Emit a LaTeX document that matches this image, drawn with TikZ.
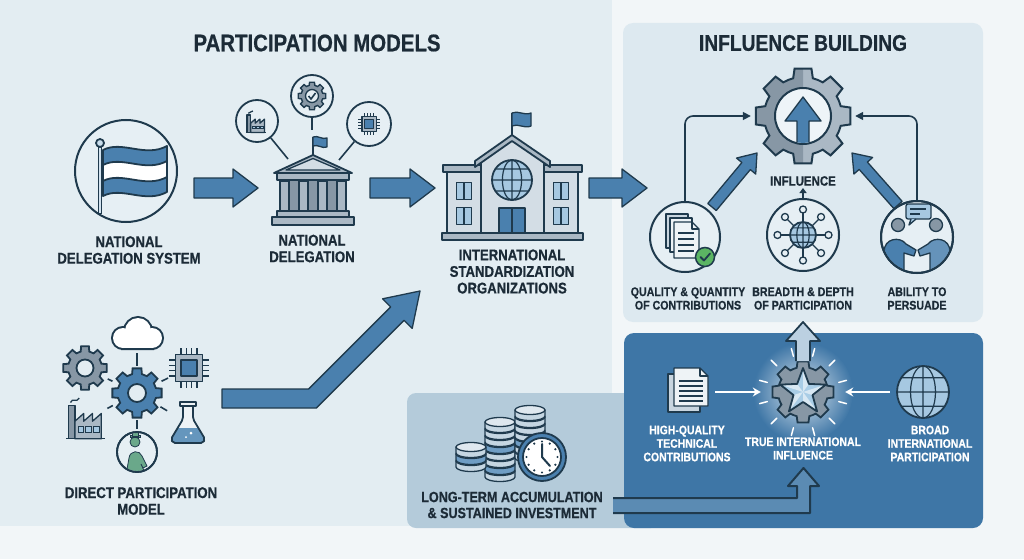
\documentclass[tikz,border=0pt]{standalone}
\usepackage{fontspec}
\setmainfont{Liberation Sans}[FakeStretch=0.85, BoldFeatures={FakeBold=0.6}]
\usetikzlibrary{arrows.meta,calc}
\definecolor{navy}{HTML}{1F3A4D}
\definecolor{txt}{HTML}{1C2B37}
\definecolor{bluef}{HTML}{4A80AE}
\definecolor{blued}{HTML}{3E76A6}
\definecolor{bluel}{HTML}{A6C8E1}
\definecolor{greyf}{HTML}{8797A5}
\definecolor{greyl}{HTML}{AAB8C4}
\definecolor{bldg}{HTML}{D3DDE5}
\definecolor{bgleft}{HTML}{E3EDF2}
\definecolor{bgright}{HTML}{F2F6F8}
\definecolor{panelI}{HTML}{DDE9F0}
\definecolor{panelL}{HTML}{B4CBDA}
\definecolor{iconbg}{HTML}{E6EFF4}
\definecolor{paper}{HTML}{EEF3F6}
\definecolor{paperd}{HTML}{C8D5DF}
\definecolor{greenc}{HTML}{5BB563}
\definecolor{greenp}{HTML}{6AA88A}
\definecolor{arrowl}{HTML}{BBD0E1}
\definecolor{starf}{HTML}{A9CDE6}
\definecolor{coinc}{HTML}{C5D6E2}
\definecolor{coinb}{HTML}{6F9DC4}
\tikzset{
 ol/.style={draw=navy, line width=1.8, line join=round},
 olt/.style={draw=navy, line width=1.3, line join=round},
 lbl/.style={font=\bfseries\fontsize{15.5}{16.6}\selectfont, text=txt, align=center, inner sep=0},
 lbls/.style={font=\bfseries\fontsize{12.5}{13.5}\selectfont, text=txt, align=center, inner sep=0},
 lblw/.style={font=\bfseries\fontsize{12.3}{13.5}\selectfont, text=white, align=center, inner sep=0},
 ttl/.style={font=\bfseries\fontsize{24}{28}\selectfont, text=txt, inner sep=0},
 blk/.style={fill=bluef, draw=navy, line width=1.3, line join=round},
 conn/.style={draw=navy, line width=1.6},
 ring/.style={circle, inner sep=0, draw=navy, line width=2, fill=iconbg},
 spot/.style={circle, inner sep=0},
 wline/.style={draw=white, line width=2},
 pics/gearp/.style n args={3}{code={%
  \path[pic actions] ({0.325*360/#1}:#3)
   \foreach \gi in {1,...,#1}{
    arc[start angle={(\gi-1)*360/#1+0.325*360/#1}, end angle={\gi*360/#1-0.325*360/#1}, radius=#3]
    -- ({\gi*360/#1-0.225*360/#1}:#2) -- ({\gi*360/#1+0.225*360/#1}:#2) -- ({\gi*360/#1+0.325*360/#1}:#3)
   } -- cycle;
 }},
 pics/chip/.style={code={%
  \foreach \p in {-6,-2,2,6}{
   \draw[navy, line width=1.4] (\p,-10) -- (\p,-15) (\p,10) -- (\p,15) (-10,\p) -- (-15,\p) (10,\p) -- (15,\p);
  }
  \draw[ol, fill=greyl] (-10,-10) rectangle (10,10);
  \draw[olt, fill=bluef] (-6,-6) rectangle (6,6);
 }},
 pics/factory/.style={code={%
  \draw[olt, fill=greyf] (-17,-12) rectangle (-11,18);
  \draw[olt, fill=greyl] (-11,18) -- (-11,2) -- (-3,-5) -- (-3,2) -- (5,-5) -- (5,2) -- (13,-5) -- (13,18) -- cycle;
  \foreach \wx in {-8,-1,6} {\draw[navy, line width=1, fill=bluel] (\wx,7) rectangle ++(5,5);}
  \draw[navy, line width=1.3] (-19,18) -- (16,18);
  \draw[navy, line width=1.3] (-15,-15) .. controls (-13,-20) and (-10,-14) .. (-7,-19);
 }},
 pics/flask/.style={code={%
  \begin{scope}
   \clip[rounded corners=2] (-5,-18) -- (-5,-5) -- (-17,15) -- (-15,19) -- (15,19) -- (17,15) -- (5,-5) -- (5,-18) -- cycle;
   \fill[paper] (-20,-20) rectangle (20,20);
   \fill[bluef!70!bluel] (-20,4) rectangle (20,20);
  \end{scope}
  \draw[ol, rounded corners=2] (-5,-18) -- (-5,-5) -- (-17,15) -- (-15,19) -- (15,19) -- (17,15) -- (5,-5) -- (5,-18);
  \draw[ol, fill=paper] (-8,-22) rectangle (8,-18);
  \fill[white] (3,9) circle (1.5) (-2,13) circle (1);
 }},
 pics/cloud/.style={code={%
  \draw[navy, line width=4] (-15,3) circle (10) (0,-4) circle (13) (14,3) circle (10) (-15,3) rectangle (14,13);
  \fill[white] (-15,3) circle (10);
  \fill[white] (0,-4) circle (13);
  \fill[white] (14,3) circle (10);
  \fill[white] (-15,3) rectangle (14,13);
 }},
 pics/globe/.style={code={%
  \fill[bluel] (0,0) circle (10);
  \begin{scope}\clip (0,0) circle (10);
   \draw[navy, line width=1.2] (0,-10) -- (0,10) (-10,0) -- (10,0) (-10,-5.5) -- (10,-5.5) (-10,5.5) -- (10,5.5) (0,0) ellipse (4.8 and 10);
  \end{scope}
  \draw[navy, line width=1.8] (0,0) circle (10);
 }},
 pics/win/.style={code={%
  \draw[olt, fill=bluel] (-7.5,-8.5) rectangle (7.5,8.5);
  \draw[navy, line width=1.2] (0,-8.5) -- (0,8.5);
 }}
}
% block arrow: style, x1,y1,x2,y2, shaft half, head half, head length
\newcommand{\barrow}[8]{%
 \pgfmathsetmacro\barang{atan2((#3)-(#5),(#4)-(#2))}%
 \pgfmathsetmacro\barlen{veclen((#4)-(#2),(#5)-(#3))}%
 \begin{scope}[shift={(#2,#3)},rotate=\barang]
  \path[#1] (0,-#6) -- ({\barlen-#8},-#6) -- ({\barlen-#8},-#7) -- (\barlen,0) -- ({\barlen-#8},#7) -- ({\barlen-#8},#6) -- (0,#6) -- cycle;
 \end{scope}}
\newcommand{\coin}[3]{%
 \pgfmathsetmacro\cny{#2}%
 \draw[olt, fill=#3] ({#1-15},\cny) -- ({#1-15},{\cny+6}) arc[start angle=180, end angle=0, x radius=15, y radius=4.5] -- ({#1+15},\cny) -- cycle;
 \draw[olt, fill=#3!55!white] (#1,\cny) ellipse (15 and 4.5);
}
\begin{document}
\begin{tikzpicture}[x=1pt,y=-1pt]
\useasboundingbox (0,0) rectangle (1024,559);
% backgrounds
\fill[bgright] (0,0) rectangle (1024,559);
\fill[bgleft] (0,0) rectangle (612,526);
\fill[panelI, rounded corners=10] (623,23) rectangle (983,322);
\fill[panelL, rounded corners=9] (407,393) rectangle (660,528);
\fill[blued, rounded corners=10] (624,333) rectangle (983,528);

% titles
\node[ttl] (ttlA) at (317,43) {PARTICIPATION MODELS};
\node[ttl, font=\bfseries\fontsize{22.6}{26}\selectfont] (ttlB) at (803,43) {INFLUENCE BUILDING};

% ---------- national delegation system (flag)
\node[ring, minimum size=102] (flagc) at (126,171) {};
\draw[navy, line width=4] (100,146) -- (100,214);
\draw[bluel!50!white, line width=1.5] (100,147) -- (100,213);
\draw[ol, fill=bluel!60!white] (100,143) circle (4);
\draw[ol, fill=bluef] (103,150) .. controls (122,140) and (145,158) .. (167,146) -- (167,192) .. controls (145,204) and (122,186) .. (103,196) -- cycle;
\draw[ol, fill=white] (103,165) .. controls (122,155) and (145,173) .. (167,161) -- (167,177) .. controls (145,189) and (122,171) .. (103,181) -- cycle;
\node[lbl] (lNDS) at (129,250) {NATIONAL\\DELEGATION SYSTEM};

% arrows row
\barrow{blk}{194}{188}{258}{188}{10}{19}{25}
\barrow{blk}{370}{188}{435}{188}{10}{19}{25}
\barrow{blk}{589}{188}{647}{188}{10}{19}{25}

% ---------- national delegation building
\draw[navy, line width=1.5] (313,156) -- (313,137);
\draw[olt, fill=bluef] (313,137) .. controls (318,135) and (322,140) .. (327,138) -- (327,147) .. controls (322,149) and (318,144) .. (313,146) -- cycle;
\draw[ol, fill=greyl] (274,173) -- (313,155) -- (352,173) -- cycle;
\draw[olt, fill=bldg] (286,170) -- (313,158.5) -- (340,170) -- cycle;
\draw[ol, fill=greyf] (280,180) rectangle (346,212);
\foreach \cx in {284.5,303.5,322.5,341.5} {\draw[olt, fill=greyl] ({\cx-4.5},181) rectangle ({\cx+4.5},211);}
\draw[ol, fill=greyl] (277,173) rectangle (349,180);
\draw[ol, fill=greyl] (277,211) rectangle (349,217);
\draw[ol, fill=greyl] (272,217) rectangle (354,225);
\node[ring, minimum size=42, line width=1.8] (fc) at (257,121) {};
\node[ring, minimum size=42, line width=1.8] (gc) at (312,96) {};
\node[ring, minimum size=44, line width=1.8] (cc) at (369,124) {};
\pic[scale=0.58] at (257,122) {factory};
\pic[fill=greyf, draw=navy, line width=1.4] at (312,96) {gearp={8}{14}{11}};
\draw[olt, fill=iconbg] (312,96) circle (6.5);
\draw[navy, line width=1.6] (308.5,96) -- (311,99) -- (315.5,93);
\pic[scale=0.74] at (369,124) {chip};
\coordinate (ndL) at (288,159);
\coordinate (ndT) at (312,130);
\coordinate (ndR) at (339,160);
\draw[conn] (fc) -- (ndL);
\draw[conn] (gc) -- (ndT);
\draw[conn] (cc) -- (ndR);
\node[lbl] (lND) at (312,248.5) {NATIONAL\\DELEGATION};

% ---------- international standardization organizations
\draw[navy, line width=1.5] (512,138) -- (512,113);
\draw[olt, fill=bluef] (512,113) .. controls (518,110) and (524,116) .. (531,113) -- (531,126) .. controls (524,129) and (518,123) .. (512,126) -- cycle;
\draw[ol, fill=bldg] (447,172) rectangle (481,233);
\draw[ol, fill=bldg] (544,172) rectangle (578,233);
\draw[ol, fill=greyl] (443,165) rectangle (482,172);
\draw[ol, fill=greyl] (543,165) rectangle (582,172);
\draw[ol, fill=bldg] (481,233) -- (481,160) -- (512,140) -- (544,160) -- (544,233) -- cycle;
\draw[ol, fill=greyl] (475,161) -- (512,135) -- (550,161) -- (550,167) -- (512,141) -- (475,167) -- cycle;
\pic[scale=2] at (512,180) {globe};
\draw[ol, fill=bluef] (499,208) rectangle (525,233);
\draw[navy, line width=1.2] (512,208) -- (512,233);
\pic at (464,191) {win};
\pic at (464,216) {win};
\pic at (561,191) {win};
\pic at (561,216) {win};
\draw[ol, fill=greyl] (442,233) rectangle (583,240);
\node[lbl] (lISO) at (512,271.5) {INTERNATIONAL\\STANDARDIZATION\\ORGANIZATIONS};

% ---------- direct participation
\draw[blk] (222,389) -- (308.6,389) -- (390.7,306.9) -- (382.6,298.8) -- (420,291) -- (412.2,328.4) -- (404.1,320.3) -- (316.4,408) -- (222,408) -- cycle;
\node[spot, minimum size=50] (dg) at (137,393) {};
\node[spot, minimum size=34] (cl) at (137,334) {};
\node[spot, minimum size=46] (lg) at (85,368) {};
\node[spot, minimum size=42] (ch) at (189,368) {};
\node[spot, minimum size=46] (fa) at (85,420) {};
\node[spot, minimum size=44] (fl) at (188,423) {};
\node[ring, minimum size=40, line width=1.8] (pe) at (137,452) {};
\foreach \t in {cl,lg,ch,fa,fl,pe} {\draw[conn, shorten <=2, shorten >=2] (dg) -- (\t);}
\pic[fill=bluef, draw=navy, line width=1.8] at (137,393) {gearp={8}{25}{19.5}};
\draw[ol, fill=bgleft] (137,393) circle (9);
\pic[fill=greyf, draw=navy, line width=1.8] at (85,368) {gearp={8}{22}{17}};
\draw[ol, fill=bgleft] (85,368) circle (8.5);
\pic at (138,335) {cloud};
\pic[scale=1.35] at (189,368) {chip};
\pic[scale=1.1] at (87,419) {factory};
\pic at (188,424) {flask};
\begin{scope}
 \clip (137,452) circle (19);
 \draw[navy, line width=0.8, fill=greenp] (135,442) circle (5);
 \draw[navy, line width=0.8, fill=greenp] (130,437.5) rectangle (140,435.5);
 \draw[navy, line width=0.8, fill=greenp] (132.5,436) rectangle (138.5,431);
 \draw[navy, line width=0.8, fill=greenp] (126,475) -- (129,458) .. controls (130,450) and (140,450) .. (142,456) -- (147,466) -- (143,468) -- (141,464) -- (146,475) -- cycle;
\end{scope}
\draw[navy, line width=1.8] (137,452) circle (20);
\node[lbl] (lDP) at (141,501) {DIRECT PARTICIPATION\\MODEL};

% ---------- long-term accumulation
\foreach \k/\c in {1/coinc,2/coinb,3/coinc,4/coinc,5/coinb,6/coinc,7/coinc,8/coinc} {\coin{500}{471-(\k-1)*7}{\c}}
\foreach \k/\c in {1/coinc,2/coinb,3/coinc} {\coin{471}{461-(\k-1)*7}{\c}}
\foreach \k/\c in {1/coinc,2/coinc,3/coinb,4/coinc,5/coinc,6/coinc,7/coinc} {\coin{530}{452-(\k-1)*7}{\c}}
\draw[ol, fill=bluef] (542,457) circle (24);
\draw[ol, fill=white] (542,457) circle (19);
\foreach \a in {0,30,...,330} {\fill[navy] ($(542,457)+(\a:15.5)$) circle (1.2);}
\draw[navy, line width=2, line cap=round, line join=round] (542,444) -- (542,457) -- (550,466);
\node[lbl, font=\bfseries\fontsize{14.8}{16}\selectfont] (lLT) at (512,505) {LONG-TERM ACCUMULATION\\\& SUSTAINED INVESTMENT};

% ---------- true international influence (dark panel)
\shade[inner color=white!80!blued, outer color=blued] (803,392) circle (50);
\foreach \a in {15,45,...,345} {\draw[white, line width=1.5, line cap=round] ($(803,392)+(\a:37)$) -- ($(803,392)+(\a:45)$);}
\node[spot, minimum size=82] (sg) at (803,392) {};
\pic[fill=greyf, draw=navy, line width=1.8] at (803,392) {gearp={8}{31}{25}};
\begin{scope}[shift={(803,392)}]
 \fill[starf] (270:24) -- (306:10) -- (342:24) -- (18:10) -- (54:24) -- (90:10) -- (126:24) -- (162:10) -- (198:24) -- (234:10) -- cycle;
 \foreach \a in {270,342,54,126,198} {\fill[white, opacity=0.55] (0,0) -- (\a:24) -- ({\a+36}:10) -- cycle;}
 \draw[ol] (270:24) -- (306:10) -- (342:24) -- (18:10) -- (54:24) -- (90:10) -- (126:24) -- (162:10) -- (198:24) -- (234:10) -- cycle;
\end{scope}
\draw[ol, fill=arrowl] (796,361) -- (796,341) -- (786,341) -- (803,322) -- (820,341) -- (810,341) -- (810,361);
\node[spot, minimum size=44] (dc) at (688,392) {};
\draw[olt, fill=paperd] (668,374) rectangle (700,412);
\draw[olt, fill=paper] (674,368) -- (700,368) -- (708,376) -- (708,406) -- (674,406) -- cycle;
\draw[olt] (700,368) -- (700,376) -- (708,376);
\foreach \yy in {381,386,391,396,401} {\draw[navy, line width=1.3] (679,\yy) -- (703,\yy);}
\node[spot, minimum size=56] (gb) at (923,392) {};
\pic[scale=2.6] at (923,392) {globe};
\draw[wline, -{Stealth[length=8,width=9]}, shorten <=5, shorten >=1] (dc) -- (sg);
\draw[wline, -{Stealth[length=8,width=9]}, shorten <=5, shorten >=1] (gb) -- (sg);
\node[lblw] (lHQ) at (687,443.5) {HIGH-QUALITY\\TECHNICAL\\CONTRIBUTIONS};
\node[lblw] (lTI) at (803,448.5) {TRUE INTERNATIONAL\\INFLUENCE};
\node[lblw] (lBI) at (930,443.5) {BROAD\\INTERNATIONAL\\PARTICIPATION};
\draw[navy, line width=2, line join=round, fill=blued!85!white] (613,498) -- (797,498) -- (797,486) -- (788,486) -- (803.5,468) -- (819,486) -- (810,486) -- (810,513) -- (613,513);

% ---------- influence building
\node[spot, minimum size=104] (gr) at (803,116) {};
\node[ring, minimum size=70] (qc) at (685,237) {};
\node[ring, minimum size=72] (bd) at (803,235) {};
\node[ring, minimum size=72] (ap) at (917,237) {};
\draw[navy, line width=1.6, rounded corners=8, -{Triangle[length=8,width=8]}] (qc.north) |- (gr.west);
\draw[navy, line width=1.6, rounded corners=8, -{Triangle[length=8,width=8]}] (ap.north) |- (gr.east);
\barrow{blk}{712}{207}{757}{153}{5.5}{12.5}{17}
\barrow{blk}{898}{205}{852}{153}{5.5}{12.5}{17}
\pic[fill=greyl] at (803,116) {gearp={8}{48}{39}};
\begin{scope}
 \clip (740,55) rectangle (803,180);
 \pic[fill=greyf] at (803,116) {gearp={8}{48}{39}};
\end{scope}
\pic[draw=navy, line width=2] at (803,116) {gearp={8}{48}{39}};
\draw[navy, line width=2, fill=panelI!50!white] (803,116) circle (28);
\begin{scope}
 \clip (803,116) circle (27);
 \draw[blk] (797,146) -- (797,121) -- (785,121) -- (803,97) -- (821,121) -- (809,121) -- (809,146) -- cycle;
\end{scope}
\node[lbl, font=\bfseries\fontsize{13.5}{15}\selectfont] (lIN) at (803,181) {INFLUENCE};
\draw[navy, line width=1.4, -{Triangle[length=5,width=7]}] (bd.north) -- ++(0,-10);
% docs icon
\draw[olt, fill=paperd] (666,214) rectangle (688,248);
\draw[olt, fill=paper] (670,218) rectangle (692,252);
\draw[olt, fill=paper] (674,222) -- (692,222) -- (699,229) -- (699,258) -- (674,258) -- cycle;
\draw[olt] (692,222) -- (692,229) -- (699,229);
\foreach \yy in {233,239,245,251} {\draw[navy, line width=1.3] (678,\yy) -- (694,\yy);}
\draw[navy, line width=1.5, fill=greenc] (705,257) circle (9.5);
\draw[navy, line width=1.8, line cap=round, line join=round] (700.5,257) -- (704,260.5) -- (710,253.5);
% network icon
\begin{scope}[shift={(803,235)}]
 \foreach \a in {0,45,...,315} {
  \draw[navy, line width=1.3] (\a:13) -- (\a:22);
  \draw[navy, line width=1.3, fill=iconbg] (\a:25.5) circle (3.5);
 }
\end{scope}
\pic[scale=1.3] at (803,235) {globe};
% handshake icon
\begin{scope}
 \clip (917,237) circle (35);
 \draw[olt, fill=bluef] (884,275) -- (884,252) .. controls (884,238) and (900,236) .. (906,244) -- (916,250) -- (914,256) -- (904,253) -- (904,275) -- cycle;
 \draw[olt, fill=bluef!85!white] (950,275) -- (950,252) .. controls (950,238) and (934,236) .. (928,244) -- (918,250) -- (920,256) -- (930,253) -- (930,275) -- cycle;
 \draw[olt, fill=greyf] (898,225) circle (6.5);
 \draw[olt, fill=greyf] (936,225) circle (6.5);
\end{scope}
\draw[navy, line width=2] (917,237) circle (36);
\draw[olt, fill=bluel, rounded corners=2] (906,204) rectangle (931,219);
\draw[olt, fill=bluel] (911,219) -- (909,225) -- (916,219);
\draw[navy, line width=1.2] (910,209) -- (926,209) (910,214) -- (920,214);
\node[lbls] (lQQ) at (688,298.5) {QUALITY \& QUANTITY\\OF CONTRIBUTIONS};
\node[lbls] (lBD) at (803,298.5) {BREADTH \& DEPTH\\OF PARTICIPATION};
\node[lbls] (lAP) at (917,298.5) {ABILITY TO\\PERSUADE};
\end{tikzpicture}
\end{document}
